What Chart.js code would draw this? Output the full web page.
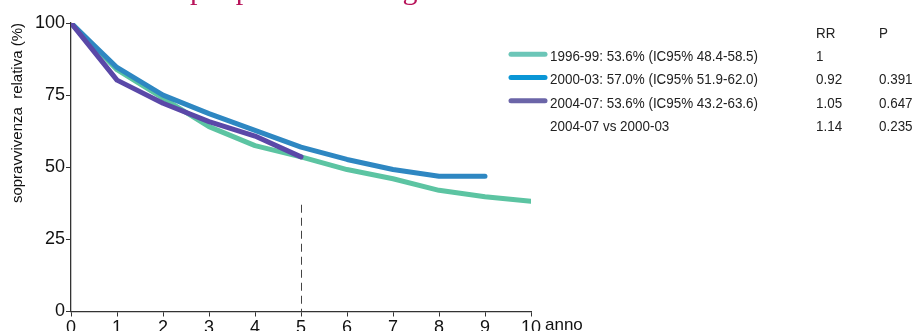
<!DOCTYPE html>
<html lang="it">
<head>
<meta charset="UTF-8">
<title>Sopravvivenza relativa per periodo di diagnosi</title>
<script src="https://cdn.jsdelivr.net/npm/chart.js@4"></script>
<style>
  html, body { margin: 0; padding: 0; background: #fff; }
  #wrap { width: 914px; height: 331px; }
</style>
</head>
<body>
<div id="wrap"><canvas id="chart" width="914" height="331"></canvas></div>
<script>
// anni dalla diagnosi
const years = [0, 1, 2, 3, 4, 5, 6, 7, 8, 9, 10];
const yTicks = [0, 25, 50, 75, 100];

// sopravvivenza relativa (%) per periodo
const surv9699 = [100, 83.8, 74.0, 64.1, 57.5, 53.6, 49.2, 46.0, 42.0, 39.8, 38.2];
const surv0003 = [100, 84.6, 75.0, 68.6, 62.8, 57.0, 52.7, 49.2, 46.9, 46.9];
const surv0407 = [100, 80.2, 72.2, 65.8, 60.8, 53.6];

// tabella a destra
const legendLabels = [
  '1996-99: 53.6% (IC95% 48.4-58.5)',
  '2000-03: 57.0% (IC95% 51.9-62.0)',
  '2004-07: 53.6% (IC95% 43.2-63.6)',
  '2004-07 vs 2000-03'
];
const rrValues = ['1', '0.92', '1.05', '1.14'];
const pValues = ['', '0.391', '0.647', '0.235'];

const lineColors = ['#5cc4a2', '#2e87c2', '#5a48a8'];
const legendColors = ['#6cc6b8', '#0a96d6', '#6b65a8'];

const toPoints = vals => vals.map((v, i) => ({ x: years[i], y: v }));

const FONT = '"Liberation Sans", Arial, sans-serif';

// testo stretto (la tabella usa un carattere condensato)
function narrowText(ctx, s, x, y, k) {
  ctx.save();
  ctx.translate(x, y);
  ctx.scale(k, 1);
  ctx.fillText(s, 0, 0);
  ctx.restore();
}

const extras = {
  id: 'extras',
  afterDraw(chart) {
    const ctx = chart.ctx;
    const xs = chart.scales.x, ys = chart.scales.y;
    ctx.save();

    // linea tratteggiata a 5 anni
    ctx.strokeStyle = '#444';
    ctx.lineWidth = 1;
    ctx.setLineDash([8, 5]);
    const x5 = Math.round(xs.getPixelForValue(5)) + 0.5;
    ctx.beginPath();
    ctx.moveTo(x5, ys.getPixelForValue(37));
    ctx.lineTo(x5, ys.getPixelForValue(0));
    ctx.stroke();
    ctx.setLineDash([]);

    // titolo asse x
    ctx.fillStyle = '#111';
    ctx.font = '17px ' + FONT;
    ctx.textBaseline = 'top';
    ctx.textAlign = 'left';
    ctx.fillText('anno', xs.right + 14, 317);

    // titolo (tagliato in alto)
    ctx.fillStyle = '#b8145a';
    ctx.font = '30px "Liberation Serif", "Times New Roman", serif';
    ctx.textBaseline = 'alphabetic';
    ctx.fillText('per periodo di diagnosi', 190, -1.5);

    // legenda / tabella
    const textX = 550, rrX = 816, pX = 879;
    const rowY = [56.7, 80, 103.3, 126.7];
    ctx.font = '15.5px ' + FONT;
    ctx.textBaseline = 'middle';
    const k = 208 / ctx.measureText(legendLabels[0]).width;
    ctx.fillStyle = '#222';
    narrowText(ctx, 'RR', rrX, 33.3, k);
    narrowText(ctx, 'P', pX, 33.3, k);
    ctx.lineCap = 'round';
    ctx.lineWidth = 5;
    legendLabels.forEach((lab, i) => {
      if (i < legendColors.length) {
        ctx.strokeStyle = legendColors[i];
        ctx.beginPath();
        ctx.moveTo(511, rowY[i] - 2.5);
        ctx.lineTo(545, rowY[i] - 2.5);
        ctx.stroke();
      }
      ctx.fillStyle = '#222';
      narrowText(ctx, lab, textX, rowY[i], k);
      narrowText(ctx, rrValues[i], rrX, rowY[i], k);
      narrowText(ctx, pValues[i], pX, rowY[i], k);
    });
    ctx.restore();
  }
};

const mkSet = (label, vals, color, order) => ({
  label,
  data: toPoints(vals),
  borderColor: color,
  backgroundColor: color,
  borderWidth: 5,
  borderCapStyle: 'round',
  borderJoinStyle: 'round',
  pointRadius: 0,
  tension: 0,
  fill: false,
  order
});

new Chart(document.getElementById('chart').getContext('2d'), {
  type: 'line',
  data: {
    datasets: [
      mkSet(legendLabels[0], surv9699, lineColors[0], 3),
      mkSet(legendLabels[1], surv0003, lineColors[1], 2),
      mkSet(legendLabels[2], surv0407, lineColors[2], 1)
    ]
  },
  options: {
    responsive: false,
    animation: false,
    devicePixelRatio: 1,
    layout: { padding: { left: 0, right: 383, top: 23, bottom: 0 } },
    plugins: { legend: { display: false }, tooltip: { enabled: false } },
    scales: {
      x: {
        type: 'linear',
        min: 0, max: 10,
        afterFit(s) { s.height = 19.5; },
        afterBuildTicks(s) { s.ticks = years.map(v => ({ value: v })); },
        grid: { display: true, drawOnChartArea: false, drawTicks: true, tickLength: 5, color: '#333', lineWidth: 1 },
        border: { display: true, color: '#333', width: 1.3 },
        ticks: { color: '#111', font: { family: FONT, size: 18 }, padding: 1, maxRotation: 0, autoSkip: false }
      },
      y: {
        min: 0, max: 100,
        afterFit(s) { s.width = 71; },
        afterBuildTicks(s) { s.ticks = yTicks.map(v => ({ value: v })); },
        grid: { display: true, drawOnChartArea: false, drawTicks: true, tickLength: 5, color: '#333', lineWidth: 1 },
        border: { display: true, color: '#333', width: 1.3 },
        ticks: { color: '#111', font: { family: FONT, size: 18 }, padding: 1 },
        title: {
          display: true,
          text: 'sopravvivenza  relativa (%)',
          align: 'end',
          color: '#111',
          font: { family: FONT, size: 15 },
          padding: { top: 9, bottom: 0 }
        }
      }
    }
  },
  plugins: [extras]
});
</script>
</body>
</html>
